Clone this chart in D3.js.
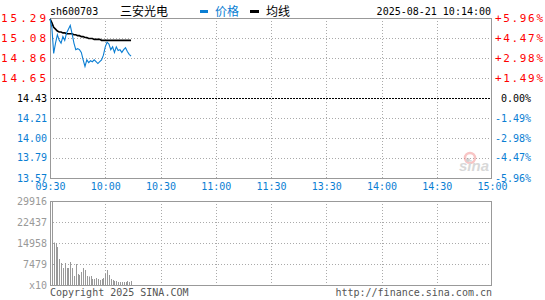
<!DOCTYPE html>
<html>
<head>
<meta charset="utf-8">
<script src="https://cdn.jsdelivr.net/npm/d3@7"></script>
<style>
  body { margin: 0; background: #fff; }
  svg { display: block; }
  text { font-family: "DejaVu Sans Mono", monospace; font-size: 10px; }
</style>
</head>
<body>
<div id="chart"></div>
<script>
// 三安光电 sh600703 intraday, 2025-08-21 up to 10:14
const prevClose = 14.43;
const priceTicks = [15.29, 15.08, 14.86, 14.65, 14.43, 14.21, 14.00, 13.79, 13.57];
const pctTicks = ['+5.96%', '+4.47%', '+2.98%', '+1.49%', '0.00%', '-1.49%', '-2.98%', '-4.47%', '-5.96%'];
const timeTicks = [0, 30, 60, 90, 120, 150, 180, 210, 240];
const timeLabels = ['09:30', '10:00', '10:30', '11:00', '11:30', '13:30', '14:00', '14:30', '15:00'];
const volTicks = [29916, 22437, 14958, 7479];

// one value per minute from 09:30
const prices = [15.28, 15.19, 14.91, 15.02, 15.11, 15.05, 15.02, 15.09, 15.05, 15.13,
  15.17, 15.21, 15.12, 15.02, 14.95, 14.96, 14.95, 14.92, 14.84, 14.77,
  14.84, 14.81, 14.83, 14.82, 14.84, 14.82, 14.80, 14.82, 14.84, 14.89,
  14.98, 15.03, 15.01, 14.95, 14.98, 14.92, 14.98, 14.94, 14.95, 14.92,
  14.95, 14.97, 14.93, 14.90, 14.88];
const avgPrices = [15.28, 15.24, 15.19, 15.17, 15.15, 15.14, 15.14, 15.13, 15.13, 15.12,
  15.12, 15.12, 15.12, 15.11, 15.11, 15.10, 15.10, 15.09, 15.09, 15.08,
  15.08, 15.07, 15.07, 15.07, 15.06, 15.06, 15.06, 15.06, 15.05, 15.05,
  15.05, 15.05, 15.05, 15.05, 15.05, 15.05, 15.05, 15.05, 15.05, 15.05,
  15.05, 15.05, 15.05, 15.05, 15.05];
const volumes = [14246, 29916, 15136, 14958, 13533, 9260, 7835, 6054, 7835, 6054,
  6054, 8191, 6054, 3205, 7479, 3918, 3561, 4630, 6054, 5342,
  3205, 3027, 3205, 2137, 2137, 2493, 2137, 1781, 2137, 2493,
  3918, 5342, 3561, 2137, 1781, 1425, 1425, 1068, 1068, 1068,
  1068, 1068, 1425, 1068, 1425];

const W = 545, H = 300;
const RED = '#ff0000', BLUE = '#0a7ed3', GRAY = '#999999';

const svg = d3.select('#chart').append('svg')
  .attr('width', W).attr('height', H);

const x = d3.scaleLinear().domain([0, 240]).range([50, 492]);
const y = d3.scaleLinear().domain([13.57, 15.29]).range([178, 18]);
const vy = d3.scaleLinear().domain([0, 29916]).range([285, 201]);

const colorFor = v => v > prevClose ? RED : (v < prevClose ? BLUE : '#000');

// grid lines
function grid(yVals, yScale, top, bottom) {
  svg.append('g').selectAll('line.h')
    .data(yVals).join('line')
    .attr('x1', 50).attr('x2', 492)
    .attr('y1', d => Math.round(yScale(d)) + 0.5).attr('y2', d => Math.round(yScale(d)) + 0.5)
    .attr('stroke', d => d === prevClose ? '#000' : '#aaa')
    .attr('stroke-dasharray', d => d === prevClose ? '2,1' : '1,2');
  svg.append('g').selectAll('line.v')
    .data(timeTicks.slice(1, -1)).join('line')
    .attr('x1', d => Math.round(x(d)) + 0.5).attr('x2', d => Math.round(x(d)) + 0.5)
    .attr('y1', top).attr('y2', bottom)
    .attr('stroke', '#aaa').attr('stroke-dasharray', '1,2');
}
grid(priceTicks.slice(1, -1), y, 18, 178);
grid(volTicks.slice(1), vy, 201, 285);

// watermark
const wm = svg.append('g').attr('opacity', 0.45);
wm.append('circle').attr('cx', 470).attr('cy', 158).attr('r', 5)
  .attr('fill', 'none').attr('stroke', '#f08080').attr('stroke-width', 2.5);
wm.append('circle').attr('cx', 468).attr('cy', 160).attr('r', 2).attr('fill', '#999');
wm.append('text').attr('x', 474).attr('y', 171).attr('text-anchor', 'middle')
  .style('font-family', 'Liberation Sans').style('font-size', '15px')
  .style('font-weight', 'bold').style('font-style', 'italic')
  .attr('fill', '#aaa').text('sina');

// frames
svg.append('rect').attr('x', 50.5).attr('y', 18.5).attr('width', 441).attr('height', 160)
  .attr('fill', 'none').attr('stroke', GRAY);
svg.append('rect').attr('x', 50.5).attr('y', 201.5).attr('width', 441).attr('height', 84)
  .attr('fill', 'none').attr('stroke', GRAY);

// volume bars
svg.append('g').selectAll('line')
  .data(volumes).join('line')
  .attr('x1', (d, i) => Math.round(x(i)) + 0.5).attr('x2', (d, i) => Math.round(x(i)) + 0.5)
  .attr('y1', vy(0)).attr('y2', d => vy(d))
  .attr('stroke', GRAY).attr('stroke-width', 1);

// average and price lines
const line = d3.line().x((d, i) => x(i)).y(d => y(d));
svg.append('path').datum(avgPrices).attr('d', line)
  .attr('fill', 'none').attr('stroke', '#000').attr('stroke-width', 1.6);
svg.append('path').datum(prices).attr('d', line)
  .attr('fill', 'none').attr('stroke', BLUE).attr('stroke-width', 1.1);

// axes
const leftAxis = svg.append('g').attr('transform', 'translate(47,0)')
  .call(d3.axisLeft(y).tickValues(priceTicks).tickSize(0).tickPadding(0).tickFormat(d3.format('.2f')));
leftAxis.select('.domain').remove();
leftAxis.selectAll('text').attr('fill', d => colorFor(d));
// the red (above close) labels are drawn wider in the original
leftAxis.selectAll('text').filter(d => d > prevClose)
  .attr('text-anchor', 'start').attr('x', -46)
  .attr('textLength', 45).attr('lengthAdjust', 'spacing').style('font-size', '11px');

const rightAxis = svg.append('g').attr('transform', 'translate(495,0)')
  .call(d3.axisRight(y).tickValues(priceTicks).tickSize(0).tickPadding(0)
    .tickFormat((d, i) => pctTicks[i]));
rightAxis.select('.domain').remove();
rightAxis.selectAll('text').attr('fill', d => colorFor(d))
  .attr('dx', d => d === prevClose ? 6 : 0);
rightAxis.selectAll('text').filter(d => d > prevClose)
  .attr('textLength', 48).attr('lengthAdjust', 'spacing').style('font-size', '11px');

const timeAxis = svg.append('g').attr('transform', 'translate(0,183)')
  .call(d3.axisBottom(x).tickValues(timeTicks).tickSize(0).tickPadding(0)
    .tickFormat((d, i) => timeLabels[i]));
timeAxis.select('.domain').remove();
timeAxis.selectAll('text').attr('fill', BLUE);

const volAxis = svg.append('g').attr('transform', 'translate(47,0)')
  .call(d3.axisLeft(vy).tickValues(volTicks.concat([0])).tickSize(0).tickPadding(0)
    .tickFormat(d => d === 0 ? 'x10' : d));
volAxis.select('.domain').remove();
volAxis.selectAll('text').attr('fill', GRAY);

// header
svg.append('text').attr('x', 50).attr('y', 15).attr('fill', '#000').text('sh600703');
svg.append('text').attr('x', 120).attr('y', 16).attr('fill', '#000')
  .style('font-family', 'Noto Sans CJK SC').style('font-size', '12px').text('三安光电');
svg.append('line').attr('x1', 200).attr('x2', 208).attr('y1', 11.5).attr('y2', 11.5)
  .attr('stroke', BLUE).attr('stroke-width', 3);
svg.append('text').attr('x', 215).attr('y', 16).attr('fill', BLUE)
  .style('font-family', 'Noto Sans CJK SC').style('font-size', '12px').text('价格');
svg.append('line').attr('x1', 250).attr('x2', 259).attr('y1', 11.5).attr('y2', 11.5)
  .attr('stroke', '#000').attr('stroke-width', 3);
svg.append('text').attr('x', 266).attr('y', 16).attr('fill', '#000')
  .style('font-family', 'Noto Sans CJK SC').style('font-size', '12px').text('均线');
svg.append('text').attr('x', 491).attr('y', 15).attr('text-anchor', 'end')
  .attr('fill', '#000').text('2025-08-21 10:14:00');

// footer
svg.append('text').attr('x', 50).attr('y', 296).attr('fill', '#555').text('Copyright 2025 SINA.COM');
svg.append('text').attr('x', 492).attr('y', 296).attr('text-anchor', 'end')
  .attr('fill', '#555').text('http://finance.sina.com.cn');
</script>
</body>
</html>
